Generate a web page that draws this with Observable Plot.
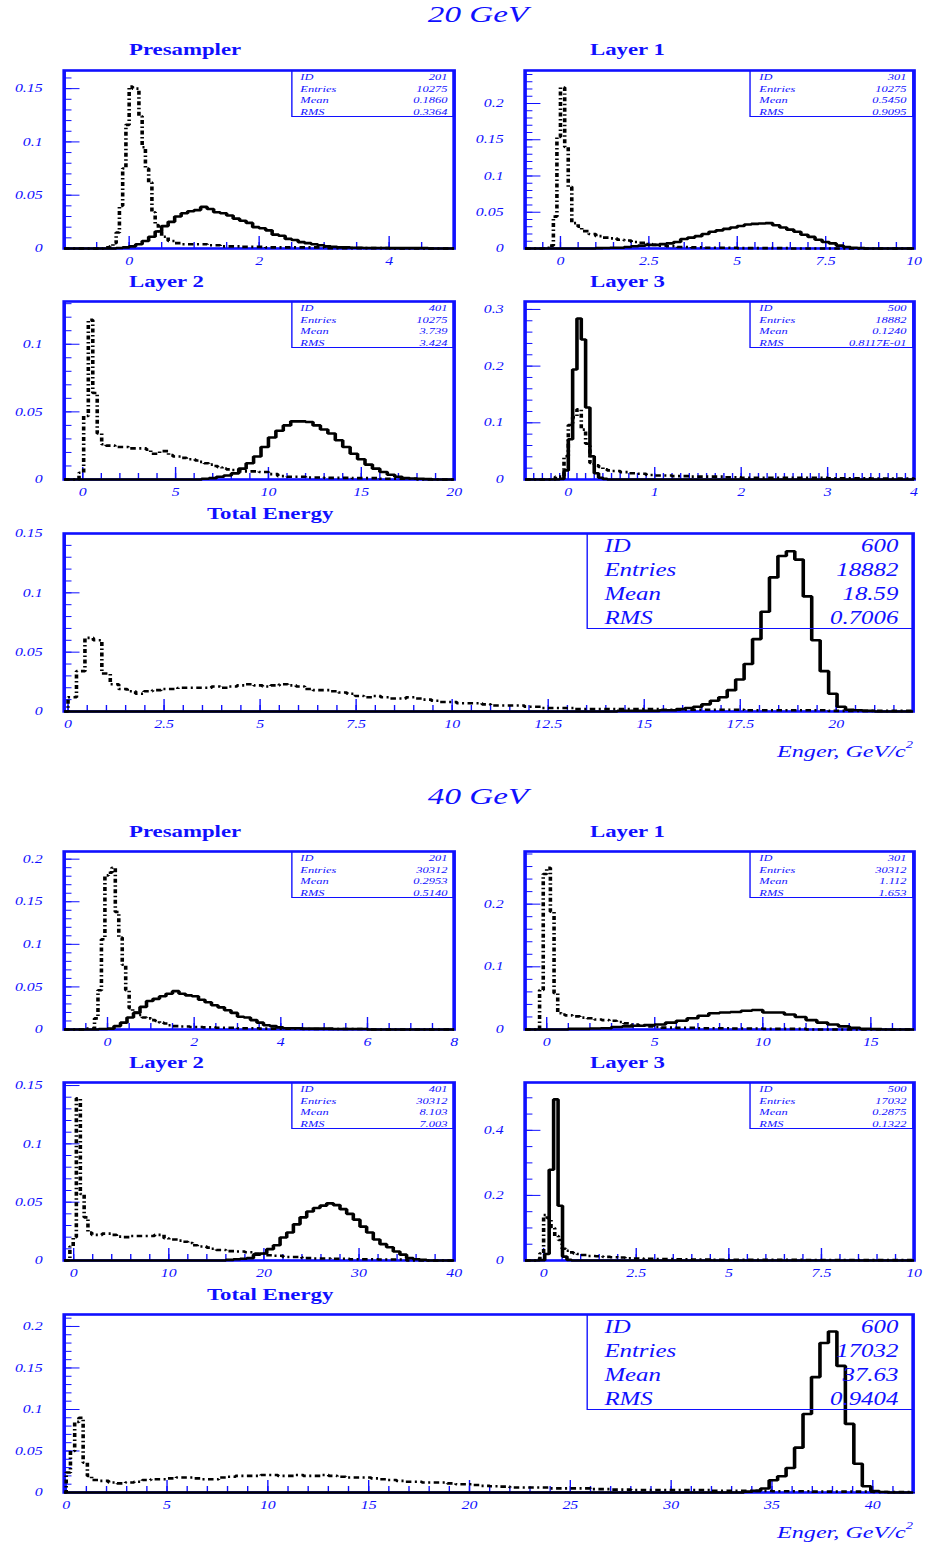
<!DOCTYPE html>
<html><head><meta charset="utf-8">
<script src="https://cdn.jsdelivr.net/npm/d3@7"></script>
<script src="https://cdn.jsdelivr.net/npm/@observablehq/plot@0.6"></script>
<style>
body{margin:0;background:#fff;}
#page{position:relative;width:925px;height:1545px;overflow:hidden;background:#fff;}
#stage{position:absolute;left:0;top:0;width:671px;height:1545px;transform:scaleX(1.38);transform-origin:0 0;font-family:"Liberation Serif","Times New Roman",serif;color:#1010ff;}
.abs{position:absolute;white-space:nowrap;line-height:1;}
.box{position:absolute;border:1.2px solid #1010ff;box-sizing:border-box;}
</style></head>
<body><div id="page"><div id="stage"></div></div>
<script>
// ---------------- data ----------------
const sectionTitles = ["20 GeV", "40 GeV"];
const panelTitles = ["Presampler", "Layer 1", "Layer 2", "Layer 3", "Total Energy"];
const statNames = ["ID", "Entries", "Mean", "RMS"];
const axisTitle = "Enger, GeV/c";

// tick labels
const ps20X = [0, 2, 4], ps20Y = [0, 0.05, 0.1, 0.15];
const l1_20X = [0, 2.5, 5, 7.5, 10], l1_20Y = [0, 0.05, 0.1, 0.15, 0.2];
const l2_20X = [0, 5, 10, 15, 20], l2_20Y = [0, 0.05, 0.1];
const l3_20X = [0, 1, 2, 3, 4], l3_20Y = [0, 0.1, 0.2, 0.3];
const tot20X = [0, 2.5, 5, 7.5, 10, 12.5, 15, 17.5, 20], tot20Y = [0, 0.05, 0.1, 0.15];
const ps40X = [0, 2, 4, 6, 8], ps40Y = [0, 0.05, 0.1, 0.15, 0.2];
const l1_40X = [0, 5, 10, 15], l1_40Y = [0, 0.1, 0.2];
const l2_40X = [0, 10, 20, 30, 40], l2_40Y = [0, 0.05, 0.1, 0.15];
const l3_40X = [0, 2.5, 5, 7.5, 10], l3_40Y = [0, 0.2, 0.4];
const tot40X = [0, 5, 10, 15, 20, 25, 30, 35, 40], tot40Y = [0, 0.05, 0.1, 0.15, 0.2];

// statistics boxes
const ps20Stats = ["201", "10275", "0.1860", "0.3364"];
const l1_20Stats = ["301", "10275", "0.5450", "0.9095"];
const l2_20Stats = ["401", "10275", "3.739", "3.424"];
const l3_20Stats = ["500", "18882", "0.1240", "0.8117E-01"];
const tot20Stats = ["600", "18882", "18.59", "0.7006"];
const ps40Stats = ["201", "30312", "0.2953", "0.5140"];
const l1_40Stats = ["301", "30312", "1.112", "1.653"];
const l2_40Stats = ["401", "30312", "8.103", "7.003"];
const l3_40Stats = ["500", "17032", "0.2875", "0.1322"];
const tot40Stats = ["600", "17032", "37.63", "0.9404"];

// histograms: [bin left edge, height]; last entry closes the last bin
const ps20Solid = [[-0.2,0.0005],[-0.1,0.001],[0,0.002],[0.1,0.004],[0.2,0.007],[0.3,0.011],[0.4,0.016],[0.5,0.021],[0.6,0.025],[0.7,0.030],[0.8,0.033],[0.9,0.035],[1.0,0.036],[1.1,0.039],[1.2,0.037],[1.3,0.034],[1.4,0.033],[1.5,0.031],[1.6,0.028],[1.7,0.026],[1.8,0.024],[1.9,0.020],[2.0,0.019],[2.1,0.017],[2.2,0.013],[2.3,0.012],[2.4,0.009],[2.5,0.008],[2.6,0.006],[2.7,0.005],[2.8,0.004],[2.9,0.003],[3.0,0.002],[3.1,0.0015],[3.2,0.001],[3.4,0.0007],[3.6,0.0005],[4.0,0.0003],[4.6,0]];
const ps20Dashed = [[-0.4,0.001],[-0.3,0.002],[-0.25,0.005],[-0.2,0.015],[-0.15,0.04],[-0.1,0.075],[-0.05,0.116],[0,0.152],[0.05,0.15],[0.1,0.15],[0.15,0.124],[0.2,0.095],[0.25,0.075],[0.3,0.062],[0.35,0.034],[0.4,0.022],[0.45,0.016],[0.5,0.011],[0.6,0.007],[0.7,0.005],[0.8,0.004],[1.0,0.004],[1.2,0.003],[1.4,0.002],[1.7,0.0015],[2.1,0.001],[3.0,0.0003],[4,0]];

const l1_20Solid = [[1.0,0.0005],[1.2,0.0007],[1.4,0.001],[1.8,0.002],[2.0,0.003],[2.2,0.004],[2.4,0.005],[2.8,0.006],[3.0,0.007],[3.2,0.009],[3.4,0.013],[3.6,0.015],[3.8,0.017],[4.0,0.020],[4.2,0.023],[4.4,0.025],[4.6,0.027],[4.8,0.029],[5.0,0.031],[5.2,0.033],[5.4,0.034],[5.6,0.0345],[5.8,0.035],[6.0,0.032],[6.2,0.029],[6.4,0.026],[6.6,0.023],[6.8,0.019],[7.0,0.016],[7.2,0.012],[7.4,0.009],[7.6,0.007],[7.8,0.004],[8.0,0.002],[8.2,0.001],[8.4,0.0005],[8.6,0]];
const l1_20Dashed = [[-0.4,0.001],[-0.3,0.004],[-0.2,0.044],[-0.1,0.154],[0,0.222],[0.12,0.14],[0.22,0.085],[0.32,0.035],[0.5,0.03],[0.6,0.024],[0.8,0.02],[1.0,0.017],[1.2,0.015],[1.4,0.014],[1.6,0.012],[1.8,0.011],[2.0,0.009],[2.2,0.008],[2.4,0.006],[2.6,0.005],[2.8,0.004],[3.0,0.003],[3.3,0.002],[3.7,0.0015],[4.1,0.001],[5.0,0.0005],[6.5,0]];

const l2_20Solid = [[6.4,0.0005],[6.8,0.001],[7.2,0.002],[7.6,0.003],[8.0,0.0045],[8.4,0.008],[8.8,0.012],[9.2,0.017],[9.6,0.024],[10.0,0.031],[10.4,0.036],[10.8,0.040],[11.2,0.043],[11.6,0.043],[12.0,0.0425],[12.4,0.040],[12.8,0.037],[13.2,0.034],[13.6,0.029],[14.0,0.024],[14.4,0.019],[14.8,0.015],[15.2,0.011],[15.6,0.008],[16.0,0.0055],[16.4,0.0035],[16.8,0.002],[17.2,0.001],[17.6,0.0007],[18.0,0.0005],[18.4,0.0003],[18.8,0]];
const l2_20Dashed = [[-0.2,0.005],[0.05,0.047],[0.3,0.118],[0.54,0.064],[0.78,0.034],[1.02,0.026],[1.26,0.025],[1.74,0.024],[2.46,0.023],[3.42,0.022],[3.66,0.019],[4.14,0.021],[4.62,0.018],[4.86,0.017],[5.34,0.016],[5.58,0.015],[6.06,0.014],[6.3,0.013],[6.54,0.012],[6.78,0.011],[7.02,0.010],[7.26,0.009],[7.5,0.008],[7.74,0.0075],[7.98,0.007],[8.46,0.006],[9.5,0.0055],[10.0,0.004],[10.5,0.0025],[11.0,0.002],[12.0,0.0015],[13.0,0.0012],[14.5,0.001],[16,0.0005],[18,0]];

const l3_20Solid = [[-0.1,0.001],[-0.05,0.016],[0,0.071],[0.05,0.194],[0.1,0.284],[0.15,0.247],[0.2,0.127],[0.25,0.041],[0.3,0.011],[0.35,0.003],[0.4,0.001],[0.45,0]];
const l3_20Dashed = [[-0.15,0.005],[-0.05,0.041],[0,0.096],[0.05,0.11],[0.1,0.124],[0.15,0.088],[0.2,0.063],[0.25,0.029],[0.3,0.025],[0.35,0.022],[0.4,0.018],[0.45,0.016],[0.5,0.015],[0.6,0.013],[0.7,0.011],[0.8,0.010],[0.9,0.008],[1.0,0.007],[1.2,0.006],[1.4,0.005],[1.8,0.004],[2.0,0.003],[3.0,0.002],[3.5,0.0015],[4,0]];

const tot20Solid = [[14.3,0.0005],[15.4,0.001],[15.84,0.002],[16.06,0.003],[16.28,0.004],[16.5,0.006],[16.72,0.009],[16.94,0.012],[17.16,0.018],[17.38,0.027],[17.6,0.040],[17.82,0.061],[18.04,0.084],[18.26,0.113],[18.48,0.131],[18.7,0.135],[18.92,0.128],[19.14,0.097],[19.36,0.060],[19.58,0.034],[19.8,0.015],[20.02,0.004],[20.24,0.0015],[20.46,0.001],[20.68,0.0005],[21.0,0]];
const tot20Dashed = [[0,0.012],[0.22,0.034],[0.44,0.062],[0.66,0.06],[0.88,0.032],[1.1,0.023],[1.32,0.019],[1.54,0.017],[1.76,0.015],[1.98,0.017],[2.2,0.018],[2.42,0.019],[2.86,0.02],[3.74,0.021],[3.96,0.02],[4.18,0.021],[4.4,0.022],[4.62,0.023],[4.84,0.022],[5.06,0.021],[5.28,0.022],[5.5,0.023],[5.72,0.022],[5.94,0.021],[6.16,0.019],[6.38,0.018],[6.82,0.017],[7.04,0.016],[7.26,0.015],[7.48,0.013],[7.7,0.012],[7.92,0.013],[8.14,0.012],[8.36,0.011],[8.8,0.012],[9.02,0.011],[9.24,0.010],[9.46,0.009],[9.68,0.008],[10.12,0.007],[10.78,0.006],[11,0.005],[11.88,0.004],[12.32,0.003],[13.2,0.002],[15.4,0.0015],[17.6,0.001],[19.8,0.0005],[22,0]];

const ps40Solid = [[-0.2,0.0005],[0,0.001],[0.15,0.004],[0.3,0.008],[0.45,0.014],[0.6,0.0195],[0.75,0.0265],[0.9,0.0335],[1.05,0.036],[1.2,0.039],[1.35,0.042],[1.5,0.045],[1.65,0.042],[1.8,0.040],[1.95,0.039],[2.1,0.035],[2.25,0.032],[2.4,0.0285],[2.55,0.026],[2.7,0.0226],[2.85,0.0195],[3.0,0.015],[3.15,0.014],[3.3,0.011],[3.45,0.008],[3.6,0.005],[3.75,0.004],[3.9,0.0025],[4.05,0.0015],[4.5,0.001],[5.2,0.0005],[6,0]];
const ps40Dashed = [[-0.5,0.001],[-0.3,0.013],[-0.22,0.046],[-0.14,0.106],[-0.06,0.181],[0.02,0.184],[0.1,0.19],[0.18,0.138],[0.26,0.108],[0.34,0.076],[0.42,0.046],[0.5,0.025],[0.58,0.02],[0.7,0.017],[0.8,0.014],[0.9,0.013],[1.0,0.011],[1.1,0.010],[1.2,0.008],[1.3,0.007],[1.4,0.005],[1.5,0.004],[1.7,0.0035],[1.9,0.003],[2.2,0.0025],[2.5,0.002],[3.0,0.0015],[3.5,0.001],[4.5,0.0005],[6,0]];

const l1_40Solid = [[1,0.001],[2,0.0015],[2.5,0.002],[3,0.004],[3.5,0.005],[4,0.006],[4.5,0.007],[5,0.008],[5.5,0.011],[6,0.014],[6.5,0.018],[7,0.022],[7.5,0.026],[8,0.027],[8.5,0.028],[9,0.030],[9.5,0.031],[10,0.027],[11,0.024],[11.5,0.020],[12,0.015],[12.5,0.011],[13,0.008],[13.5,0.005],[14,0.0025],[14.5,0.001],[15,0.0005],[15.5,0]];
const l1_40Dashed = [[-0.5,0.001],[-0.33,0.063],[-0.16,0.248],[0,0.258],[0.17,0.188],[0.34,0.058],[0.51,0.026],[0.68,0.024],[0.85,0.0225],[1.19,0.021],[1.53,0.019],[1.87,0.018],[2.21,0.016],[2.55,0.015],[2.89,0.014],[3.23,0.012],[3.57,0.0097],[3.91,0.008],[4.25,0.006],[4.59,0.005],[4.93,0.004],[5.3,0.003],[6,0.0025],[7,0.002],[8.5,0.0015],[10,0.001],[12,0]];

const l2_40Solid = [[16,0.0005],[16.8,0.001],[17.5,0.0015],[18.2,0.002],[18.9,0.005],[19.6,0.006],[20.3,0.0097],[21,0.013],[21.7,0.0197],[22.4,0.024],[23.1,0.031],[23.8,0.037],[24.5,0.042],[25.2,0.045],[25.9,0.047],[26.6,0.049],[27.3,0.0475],[28,0.044],[28.7,0.040],[29.4,0.035],[30.1,0.029],[30.8,0.024],[31.5,0.018],[32.2,0.014],[32.9,0.0114],[33.6,0.0077],[34.3,0.005],[35,0.002],[35.7,0.001],[36.4,0.0005],[37.1,0]];
const l2_40Dashed = [[-0.4,0.012],[-0.05,0.02],[0.28,0.139],[0.7,0.057],[1.1,0.037],[1.5,0.024],[1.9,0.022],[3.0,0.023],[4.0,0.022],[4.5,0.0205],[5.0,0.020],[6.0,0.021],[8.5,0.022],[9.5,0.019],[10.0,0.018],[11,0.017],[11.5,0.016],[12,0.015],[12.5,0.013],[13,0.012],[14,0.011],[14.5,0.010],[15,0.009],[16,0.008],[17,0.0077],[18,0.007],[19,0.006],[20,0.0045],[21,0.004],[22,0.003],[24,0.002],[25,0.0017],[27,0.0015],[29,0.001],[32,0.0008],[35,0]];

const l3_40Solid = [[-0.1,0.001],[0.03,0.02],[0.15,0.279],[0.27,0.495],[0.39,0.168],[0.51,0.012],[0.63,0.002],[0.75,0]];
const l3_40Dashed = [[-0.2,0.004],[-0.1,0.022],[0,0.14],[0.1,0.13],[0.2,0.1],[0.3,0.075],[0.4,0.063],[0.5,0.036],[0.6,0.03],[0.7,0.025],[0.8,0.022],[0.9,0.02],[1.0,0.017],[1.2,0.014],[1.4,0.013],[1.6,0.011],[1.8,0.01],[2.0,0.009],[2.2,0.007],[2.4,0.006],[2.7,0.005],[3.0,0.0045],[3.5,0.004],[4.0,0.003],[4.5,0.002],[7,0.0015],[8.5,0.001],[10,0]];

const tot40Solid = [[33.6,0.001],[34.02,0.002],[34.44,0.0048],[34.86,0.0148],[35.28,0.0196],[35.7,0.0295],[36.12,0.054],[36.54,0.0946],[36.96,0.139],[37.38,0.180],[37.8,0.194],[38.22,0.1525],[38.64,0.0826],[39.06,0.0347],[39.48,0.0076],[39.9,0.0016],[40.32,0.0005],[40.74,0]];
const tot40Dashed = [[0,0.024],[0.21,0.05],[0.42,0.085],[0.63,0.09],[0.84,0.036],[1.05,0.02],[1.26,0.015],[1.68,0.014],[2.1,0.012],[2.52,0.011],[2.94,0.012],[3.36,0.013],[3.78,0.015],[4.2,0.016],[5.04,0.017],[5.46,0.018],[6.3,0.017],[6.72,0.016],[7.56,0.018],[7.98,0.019],[8.4,0.02],[9.66,0.021],[10.5,0.02],[11.34,0.021],[11.76,0.02],[12.6,0.021],[13.02,0.02],[13.44,0.019],[13.86,0.018],[15.12,0.017],[15.54,0.016],[15.96,0.015],[16.38,0.014],[16.8,0.013],[17.64,0.012],[18.9,0.011],[19.32,0.010],[20.16,0.009],[20.58,0.008],[21,0.0075],[21.42,0.007],[22,0.006],[24,0.005],[26,0.004],[27,0.0035],[28,0.003],[32,0.002],[35,0.0015],[37,0.001],[40,0.0005],[42,0]];

// ---------------- layout ----------------
const S = 1.38;              // horizontal stretch of the reference picture
const BLUE = "#1010ff";
const sx = v => v / S;
const stage = document.getElementById("stage");

const panels = [
  {t:0, left:64,  right:454, top:70,   tx:129, ty:50,   dom:[-1,5],   yMax:0.167,  xl:ps20X,  xm:0.5, yl:ps20Y,  ym:0.01, solid:ps20Solid,  dashed:ps20Dashed,  stats:ps20Stats},
  {t:1, left:524, right:913, top:70,   tx:590, ty:50,   dom:[-1,10],  yMax:0.2455, xl:l1_20X, xm:0.5, yl:l1_20Y, ym:0.01, solid:l1_20Solid, dashed:l1_20Dashed, stats:l1_20Stats},
  {t:2, left:64,  right:454, top:301,  tx:129, ty:282,  dom:[-1,20],  yMax:0.1316, xl:l2_20X, xm:1,   yl:l2_20Y, ym:0.01, solid:l2_20Solid, dashed:l2_20Dashed, stats:l2_20Stats},
  {t:3, left:524, right:913, top:301,  tx:590, ty:282,  dom:[-0.5,4], yMax:0.314,  xl:l3_20X, xm:0.1, yl:l3_20Y, ym:0.02, solid:l3_20Solid, dashed:l3_20Dashed, stats:l3_20Stats},
  {t:4, left:64,  right:913, top:533,  tx:207, ty:514,  dom:[-0.1,22], yMax:0.15,  xl:tot20X, xm:0.5, yl:tot20Y, ym:0.01, solid:tot20Solid, dashed:tot20Dashed, stats:tot20Stats, big:true, ay:750},
  {t:0, left:64,  right:454, top:851,  tx:129, ty:832,  dom:[-1,8],   yMax:0.209,  xl:ps40X,  xm:0.5, yl:ps40Y,  ym:0.01, solid:ps40Solid,  dashed:ps40Dashed,  stats:ps40Stats},
  {t:1, left:524, right:913, top:851,  tx:590, ty:832,  dom:[-1,17],  yMax:0.284,  xl:l1_40X, xm:1,   yl:l1_40Y, ym:0.02, solid:l1_40Solid, dashed:l1_40Dashed, stats:l1_40Stats},
  {t:2, left:64,  right:454, top:1082, tx:129, ty:1063, dom:[-1,40],  yMax:0.1526, xl:l2_40X, xm:2,   yl:l2_40Y, ym:0.01, solid:l2_40Solid, dashed:l2_40Dashed, stats:l2_40Stats},
  {t:3, left:524, right:913, top:1082, tx:590, ty:1063, dom:[-0.5,10],yMax:0.547,  xl:l3_40X, xm:0.5, yl:l3_40Y, ym:0.05, solid:l3_40Solid, dashed:l3_40Dashed, stats:l3_40Stats},
  {t:4, left:64,  right:913, top:1314, tx:207, ty:1295, dom:[-0.1,42], yMax:0.2144, xl:tot40X, xm:1,  yl:tot40Y, ym:0.01, solid:tot40Solid, dashed:tot40Dashed, stats:tot40Stats, big:true, ay:1531}
];
const FRAME_H = 178;

function text(str, x, y, {size=12, weight="normal", italic=true, anchor="start", html=false, parent=stage} = {}) {
  const d = document.createElement("div");
  d.className = "abs";
  d.style.left = x + "px";
  d.style.top = y + "px";
  d.style.fontSize = size + "px";
  d.style.fontWeight = weight;
  d.style.fontStyle = italic ? "italic" : "normal";
  const tx = anchor === "middle" ? "-50%" : anchor === "end" ? "-100%" : "0";
  d.style.transform = `translate(${tx},-50%)`;
  if (html) d.innerHTML = str; else d.textContent = str;
  parent.appendChild(d);
  return d;
}

// section titles
text(sectionTitles[0], sx(478), 14, {size: 24, anchor: "middle"});
text(sectionTitles[1], sx(478), 796, {size: 24, anchor: "middle"});

function minorTicks(lo, hi, step) {
  return d3.range(Math.ceil(lo / step - 1e-6), Math.floor(hi / step + 1e-6) + 1).map(i => +(i * step).toFixed(6));
}

for (const p of panels) {
  const W = sx(p.right) - sx(p.left);
  const H = FRAME_H;
  const mL = 45, mR = 5, mT = 3, mB = 26;
  const [x0, x1] = p.dom;
  const prep = arr => [[x0, 0], ...arr, [x1, 0]].map(([x, y]) => ({x, y}));
  const fmt = d => String(d);
  const chart = Plot.plot({
    width: W + mL + mR,
    height: H + mT + mB,
    marginLeft: mL, marginRight: mR, marginTop: mT, marginBottom: mB,
    x: {domain: p.dom},
    y: {domain: [0, p.yMax]},
    style: {background: "transparent", color: BLUE, fontFamily: "Liberation Serif", fontStyle: "italic", fontSize: "11.5px", overflow: "visible", maxWidth: "none"},
    marks: [
      Plot.tickX(minorTicks(x0, x1, p.xm), {x: d => d, stroke: BLUE, strokeWidth: 1, insetTop: H - 6}),
      Plot.tickX(p.xl, {x: d => d, stroke: BLUE, strokeWidth: 1, insetTop: H - 12}),
      Plot.tickY(minorTicks(0, p.yMax, p.ym), {y: d => d, stroke: BLUE, strokeWidth: 1, insetRight: W - 5.8}),
      Plot.tickY(p.yl, {y: d => d, stroke: BLUE, strokeWidth: 1, insetRight: W - 11.6}),
      Plot.axisX({ticks: p.xl, tickSize: 0, tickPadding: 8.5, tickFormat: fmt, label: null}),
      Plot.axisY({ticks: p.yl, tickSize: 0, tickPadding: 15.6, tickFormat: fmt, label: null}),
      Plot.frame({stroke: BLUE, strokeWidth: 2.6}),
      Plot.line(prep(p.dashed), {x: "x", y: "y", curve: "step-after", stroke: "black", strokeWidth: 2.6, strokeDasharray: "4,2.5,1.5,2.5", strokeLinejoin: "miter", strokeLinecap: "butt"}),
      Plot.line(prep(p.solid), {x: "x", y: "y", curve: "step-after", stroke: "black", strokeWidth: 2.6, strokeLinejoin: "miter", strokeLinecap: "butt"})
    ]
  });
  chart.style.position = "absolute";
  chart.style.left = (sx(p.left) - mL) + "px";
  chart.style.top = (p.top - mT) + "px";
  stage.appendChild(chart);

  // panel title
  text(panelTitles[p.t], sx(p.tx), p.ty, {size: 16.5, weight: "bold", italic: false});

  // statistics box
  const bw = sx(p.big ? 326 : 163), bh = p.big ? 96 : 47;
  const box = document.createElement("div");
  box.className = "box";
  box.style.left = (sx(p.right) - bw) + "px";
  box.style.top = p.top + "px";
  box.style.width = bw + "px";
  box.style.height = bh + "px";
  if (p.big) box.style.borderWidth = "1.5px";
  stage.appendChild(box);
  const fs = p.big ? 18 : 9;
  const pad = sx(p.big ? 16 : 8);
  const rows = p.big ? [12, 36, 60, 84] : [6, 17.7, 29.3, 41];
  statNames.forEach((n, i) => {
    text(n, pad, rows[i], {size: fs, parent: box});
    text(p.stats[i], bw - pad, rows[i], {size: fs, anchor: "end", parent: box});
  });

  if (p.big) {
    text(axisTitle + "<sup style=\"font-size:0.6em;vertical-align:0.9em\">2</sup>", sx(913), p.ay, {size: 17.5, anchor: "end", html: true});
  }
}
</script>
</body></html>
